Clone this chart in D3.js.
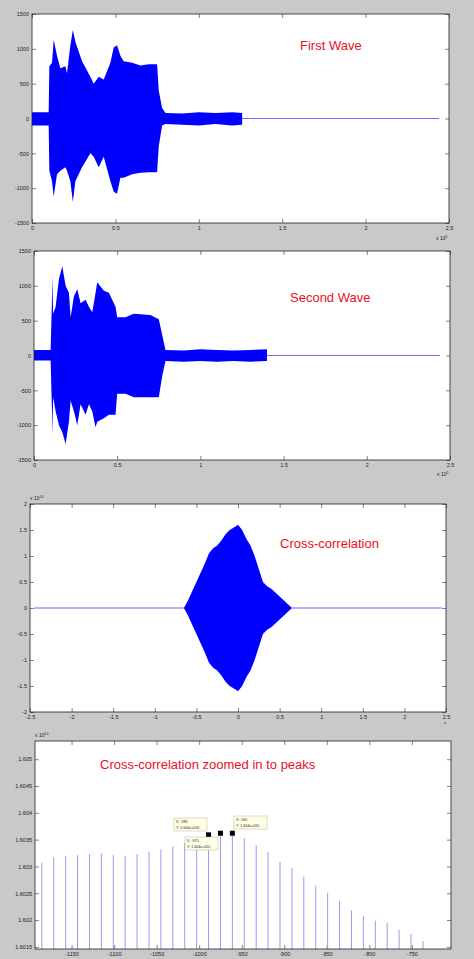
<!DOCTYPE html>
<html><head><meta charset="utf-8">
<script src="https://cdn.jsdelivr.net/npm/d3@7"></script>
<style>body{margin:0;background:#c9c9c9;}svg{display:block;font-family:"Liberation Sans",Arial,sans-serif;}</style>
</head><body><div id="chart"></div>
<script>
const width = 474, height = 959;

// 第一段波形包络 (x 单位 1e5)
const wave1X = [0,0.1,0.104,0.12,0.13,0.15,0.17,0.2,0.21,0.23,0.245,0.26,0.3,0.35,0.37,0.4,0.43,0.47,0.49,0.51,0.53,0.55,0.6,0.65,0.7,0.75,0.76,0.78,0.8,0.9,1.0,1.1,1.2,1.26];
const wave1Up = [90,90,750,800,1130,900,720,750,650,1050,1270,1100,820,600,500,600,560,800,1020,1050,900,820,800,760,780,780,400,150,80,70,90,80,90,80];
const wave1Lo = [-100,-100,-750,-900,-1120,-800,-750,-700,-750,-900,-1200,-900,-700,-500,-550,-700,-550,-900,-1050,-1080,-850,-850,-800,-780,-770,-770,-400,-100,-80,-90,-100,-80,-100,-90];

// 第二段波形包络
const wave2X = [0,0.1,0.108,0.11,0.115,0.13,0.15,0.17,0.19,0.21,0.22,0.24,0.26,0.28,0.31,0.33,0.35,0.37,0.38,0.42,0.45,0.49,0.5,0.55,0.6,0.7,0.75,0.77,0.79,0.9,1.0,1.1,1.2,1.3,1.4];
const wave2Up = [80,80,800,1150,600,700,1100,1280,1000,900,550,850,950,750,800,700,620,900,1050,930,900,700,550,550,600,580,520,300,80,70,90,80,70,80,90];
const wave2Lo = [-70,-70,-800,-1150,-600,-800,-1000,-1100,-1270,-950,-650,-800,-1000,-700,-850,-700,-800,-1030,-950,-900,-850,-850,-550,-550,-600,-600,-600,-300,-80,-90,-80,-90,-80,-90,-80];

// 互相关包络 (x 单位 1e5, y 单位 1e10)
const corrX = [-0.65,-0.6,-0.5,-0.4,-0.35,-0.3,-0.25,-0.2,-0.15,-0.1,-0.05,0,0.05,0.1,0.15,0.2,0.25,0.3,0.35,0.4,0.45,0.5,0.55,0.6,0.65];
const corrUp = [0,0.15,0.5,0.85,1.05,1.15,1.2,1.3,1.42,1.5,1.55,1.6,1.5,1.33,1.2,1.0,0.75,0.5,0.42,0.37,0.3,0.22,0.15,0.07,0];

// 放大后的峰值 (y 单位 1e10)
const lagX = d3.range(33).map(i => -1185 + 14 * i);
const lagY = [1.60307,1.60317,1.60320,1.60321,1.60323,1.60324,1.60321,1.60320,1.60323,1.60327,1.60332,1.60337,1.60344,1.60350,1.60359,1.60362,1.60362,1.60353,1.60340,1.60327,1.60309,1.60297,1.60281,1.60264,1.60251,1.60236,1.60218,1.60207,1.60199,1.60195,1.60182,1.60174,1.60161];
const tipLags = [-989, -975, -961];

const svg = d3.select("#chart").append("svg").attr("width", width).attr("height", height);

// 画一个 matlab 风格的坐标框
function makePanel(box, xDom, yDom, xTicks, yTicks) {
    const g = svg.append("g");
    g.append("rect").attr("x", box.l).attr("y", box.t).attr("width", box.r - box.l).attr("height", box.b - box.t).attr("fill", "#fff");
    const x = d3.scaleLinear().domain(xDom).range([box.l, box.r]);
    const y = d3.scaleLinear().domain(yDom).range([box.b, box.t]);
    const fmt = d => String(d);
    const axes = [
        [d3.axisBottom(x).tickValues(xTicks).tickSize(-4).tickFormat(fmt), `translate(0,${box.b})`, true],
        [d3.axisTop(x).tickValues(xTicks).tickSize(-4).tickFormat(""), `translate(0,${box.t})`, false],
        [d3.axisLeft(y).tickValues(yTicks).tickSize(-4).tickFormat(fmt), `translate(${box.l},0)`, true],
        [d3.axisRight(y).tickValues(yTicks).tickSize(-4).tickFormat(""), `translate(${box.r},0)`, false]
    ];
    axes.forEach(([ax, tr]) => {
        const a = g.append("g").attr("transform", tr).call(ax);
        a.select(".domain").remove();
        a.selectAll("line").attr("stroke", "#333").attr("stroke-width", 0.6);
        a.selectAll("text").attr("font-size", 5.5).attr("fill", "#222");
    });
    return { g, x, y, box };
}

function frame(p) {
    p.g.append("rect").attr("x", p.box.l).attr("y", p.box.t).attr("width", p.box.r - p.box.l).attr("height", p.box.b - p.box.t)
        .attr("fill", "none").attr("stroke", "#222").attr("stroke-width", 0.8);
}

function expo(p, x, y, e, anchor) {
    const t = p.g.append("text").attr("x", x).attr("y", y).attr("font-size", 5).attr("fill", "#222").attr("text-anchor", anchor || "start");
    t.append("tspan").text("x 10");
    t.append("tspan").attr("dy", -2.5).attr("font-size", 3.5).text(e);
}

function title(p, txt, x, y) {
    p.g.append("text").attr("x", x).attr("y", y).attr("fill", "#e8101c").attr("font-size", 13).text(txt);
}

function envelope(p, xs, up, lo, endX) {
    const area = d3.area().x(d => p.x(d[0])).y0(d => p.y(d[2])).y1(d => p.y(d[1]));
    p.g.append("line").attr("x1", p.x(xs[xs.length - 1])).attr("x2", p.x(endX)).attr("y1", p.y(0)).attr("y2", p.y(0))
        .attr("stroke", "#6a6aff").attr("stroke-width", 1);
    p.g.append("path").datum(xs.map((v, i) => [v, up[i], lo[i]])).attr("d", area).attr("fill", "#0000ff");
}

const waveTicksY = [-1500, -1000, -500, 0, 500, 1000, 1500];
const waveTicksX = [0, 0.5, 1, 1.5, 2, 2.5];

// 第一面板
const p1 = makePanel({ l: 32, r: 449, t: 14, b: 223 }, [0, 2.5], [-1500, 1500], waveTicksX, waveTicksY);
envelope(p1, wave1X, wave1Up, wave1Lo, 2.44);
title(p1, "First Wave", 300, 50);
expo(p1, 436, 240, "5");
frame(p1);

// 第二面板
const p2 = makePanel({ l: 34, r: 450, t: 251, b: 460 }, [0, 2.5], [-1500, 1500], waveTicksX, waveTicksY);
envelope(p2, wave2X, wave2Up, wave2Lo, 2.44);
title(p2, "Second Wave", 290, 302);
expo(p2, 437, 476, "5");
frame(p2);

// 第三面板
const p3 = makePanel({ l: 30, r: 446, t: 504, b: 712 }, [-2.5, 2.5], [-2, 2], [-2.5, -2, -1.5, -1, -0.5, 0, 0.5, 1, 1.5, 2, 2.5], [-2, -1.5, -1, -0.5, 0, 0.5, 1, 1.5, 2]);
envelope(p3, corrX, corrUp, corrUp.map(v => -v), 2.45);
p3.g.append("line").attr("x1", p3.x(-2.45)).attr("x2", p3.x(-0.65)).attr("y1", p3.y(0)).attr("y2", p3.y(0)).attr("stroke", "#6a6aff").attr("stroke-width", 1);
title(p3, "Cross-correlation", 280, 548);
expo(p3, 30, 500, "10");
p3.g.append("text").attr("x", 444).attr("y", 724).attr("font-size", 4).attr("fill", "#222").text("x");
frame(p3);

// 第四面板
const p4 = makePanel({ l: 35, r: 451, t: 741, b: 949 }, [-1193, -704], [1.60146, 1.60534],
    [-1150, -1100, -1050, -1000, -950, -900, -850, -800, -750],
    [1.6015, 1.602, 1.6025, 1.603, 1.6035, 1.604, 1.6045, 1.605]);
p4.g.append("g").selectAll("line").data(lagX.map((v, i) => [v, lagY[i]])).enter().append("line")
    .attr("x1", d => p4.x(d[0])).attr("x2", d => p4.x(d[0]))
    .attr("y1", p4.y(1.60146)).attr("y2", d => p4.y(d[1]))
    .attr("stroke", "#9a9af0").attr("stroke-width", 1);
title(p4, "Cross-correlation zoomed in to peaks", 100, 769);
expo(p4, 35, 737, "10");

// 数据提示框
const tipBoxes = [[-989, 174, 818], [-975, 185, 837], [-961, 234, 816]];
tipBoxes.forEach(([lag, bx, by]) => {
    const yv = lagY[lagX.indexOf(lag)];
    const bw = 33, bh = 13;
    p4.g.append("rect").attr("x", bx).attr("y", by).attr("width", bw).attr("height", bh)
        .attr("fill", "#ffffe6").attr("stroke", "#b8b8a0").attr("stroke-width", 0.5);
    p4.g.append("text").attr("x", bx + 2).attr("y", by + 5).attr("font-size", 3.6).attr("fill", "#222").text(`X: ${lag}`);
    p4.g.append("text").attr("x", bx + 2).attr("y", by + 10.5).attr("font-size", 3.6).attr("fill", "#222").text("Y: 1.604e+010");
    p4.g.append("rect").attr("x", p4.x(lag) - 2.5).attr("y", p4.y(yv) - 2.5).attr("width", 5).attr("height", 5).attr("fill", "#000");
});
frame(p4);
</script>
</body></html>
